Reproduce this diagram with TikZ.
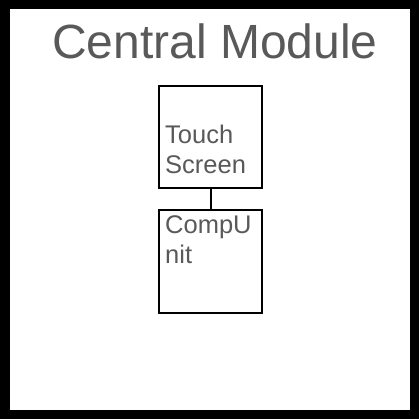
\documentclass[tikz,border=0pt]{standalone}
\usepackage{fontspec}
\setmainfont{Liberation Sans}
\definecolor{txt}{HTML}{595959}
\begin{document}
\begin{tikzpicture}[x=1pt,y=-1pt]
\tikzset{
  box/.style={draw=black,line width=2pt,inner sep=0pt,minimum width=103pt},
  lbl/.style={anchor=base west,inner sep=0pt,text=txt,align=left,font=\fontsize{25.5}{30}\selectfont},
  ttl/.style={anchor=base west,inner sep=0pt,text=txt,font=\fontsize{48}{52}\selectfont}
}
\useasboundingbox (0,0) rectangle (419,419);
\fill[white] (0,0) rectangle (419,419);
\draw[line width=9.5pt] (4.75,4.75) rectangle (414.25,414.25);
\node[ttl] (title) at (52,58.3) {Central Module};
\node[box,minimum height=102pt] (ts) at (210.5,137) {};
\node[box,minimum height=103pt] (cu) at (210.5,261.5) {};
\draw[line width=2pt] (ts.south) -- (cu.north);
\node[lbl] (tst) at (165,173.3) {Touch\\Screen};
\node[lbl] (cut) at (165,263.3) {CompU\\nit};
\end{tikzpicture}
\end{document}
